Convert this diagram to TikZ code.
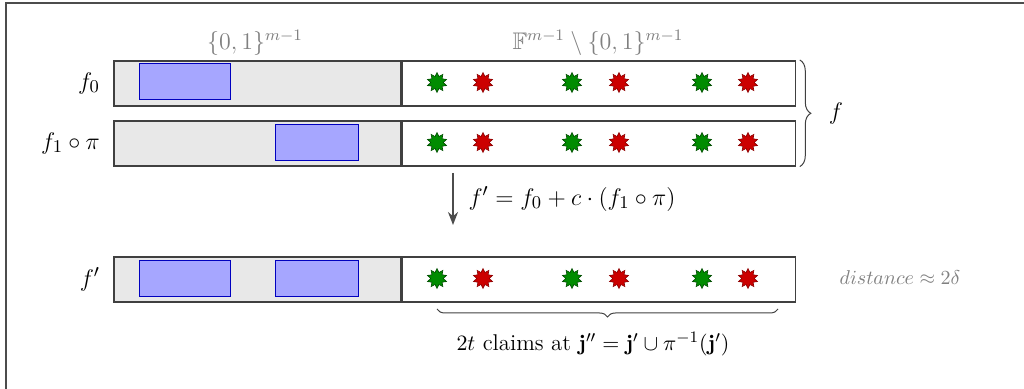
\documentclass[tikz,border=0pt]{standalone}
\usepackage{amsmath, amssymb}
\usepackage{tikz}
\usetikzlibrary{positioning,arrows.meta,shapes.geometric,decorations.pathreplacing}

\begin{document}
\begin{tikzpicture}[
  x=0.5pt, y=0.5pt, >=Stealth,
  grey/.style={draw=black!75, fill=black!9, line width=0.8pt, inner sep=0pt,
               minimum width=143.5pt, minimum height=22.5pt},
  field/.style={draw=black!75, fill=white, line width=0.8pt, inner sep=0pt,
                minimum width=196.5pt, minimum height=22.5pt},
  blk/.style={draw=blue!75!black, fill=blue!35, line width=0.5pt, inner sep=0pt,
              minimum height=18pt},
  good/.style={star, star points=10, star point ratio=1.6, inner sep=0pt,
               minimum size=10pt, fill=green!55!black, draw=green!30!black, line width=0.3pt},
  bad/.style={star, star points=10, star point ratio=1.6, inner sep=0pt,
              minimum size=10pt, fill=red!80!black, draw=red!55!black, line width=0.3pt},
  lbl/.style={text=black!50, font=\large},
  rowname/.style={font=\fontsize{13}{15}\selectfont},
  brc/.style={decorate, draw=black!75, line width=0.5pt},
]
\useasboundingbox (0,0) rectangle (1024,-389);
\draw[black!70, line width=0.8pt] (6,-3) rectangle (1040,-400);

% the three rows
\node[grey, anchor=north west] (g0) at (113,-60) {};
\node[field, right=0pt of g0] (w0) {};
\node[grey, anchor=north west] (g1) at (113,-120) {};
\node[field, right=0pt of g1] (w1) {};
\node[grey, anchor=north west] (g2) at (113,-256) {};
\node[field, right=0pt of g2] (w2) {};

\node[rowname, left=3pt of g0] (f0) {$f_0$};
\node[rowname, left=3pt of g1] (f1) {$f_1\circ\pi$};
\node[rowname, left=3pt of g2] (f2) {$f'$};

\node[lbl] (cube) at (255,-43) {$\{0,1\}^{m-1}$};
\node[lbl] (rest) at (598,-43) {$\mathbb{F}^{m-1}\setminus\{0,1\}^{m-1}$};

% blocks in {0,1}^{m-1}
\node[blk, minimum width=45.5pt] (b0) at (184.5,-82) {};
\node[blk, minimum width=41.5pt] (b1) at (316.5,-142.5) {};
\node[blk, minimum width=45.5pt] (b2a) at (184.5,-279) {};
\node[blk, minimum width=41.5pt] (b2b) at (316.5,-279) {};

% claims
\foreach \r/\y in {0/82.5, 1/142.5, 2/278.5}{
  \foreach \x in {437,572,702}
    \node[good] (s\r-\x) at (\x,-\y) {};
  \foreach \x in {483,619,748}
    \node[bad] (t\r-\x) at (\x,-\y) {};
}

\draw[brc, decoration={brace, amplitude=5.5pt}] (w0.north east) ++(1.8pt,0) coordinate (bt)
  (bt) -- (bt |- w1.south) node[midway, right=11pt, rowname] (f) {$f$};

\coordinate (a0) at (453,-173);
\coordinate (a1) at (453,-225);
\draw[->, black!70, line width=0.9pt, -{Stealth[length=6.5pt, width=5pt]}] (a0) -- (a1)
  node[midway, right=4pt, text=black, font=\fontsize{12.4}{15}\selectfont] (sum)
  {$f' = f_0 + c\cdot(f_1\circ\pi)$};

\node[lbl, font=\normalsize] (dist) at (900,-278) {$distance \approx 2\delta$};

\coordinate (c0) at (778,-309);
\coordinate (c1) at (437,-309);
\draw[brc, decoration={brace, amplitude=4pt}] (c0) -- (c1);
\node[font=\fontsize{11.4}{14}\selectfont] (claims) at (593,-344)
  {$2t$ claims at $\mathbf{j}''=\mathbf{j}'\cup\pi^{-1}(\mathbf{j}')$};
\end{tikzpicture}
\end{document}
